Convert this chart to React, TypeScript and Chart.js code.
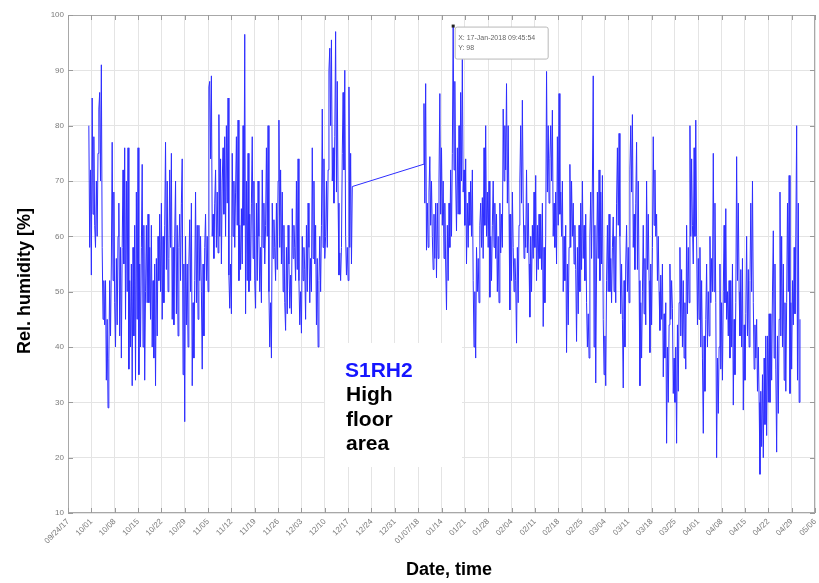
import React, { useEffect, useRef } from "react";
import { Chart, registerables } from "chart.js";

Chart.register(...registerables);

// Week tick labels, one every 7 days starting 09/24/17
const tickLabels = [
  "09/24/17", "10/01", "10/08", "10/15", "10/22", "10/29", "11/05", "11/12", "11/19",
  "11/26", "12/03", "12/10", "12/17", "12/24", "12/31", "01/07/18", "01/14", "01/21",
  "01/28", "02/04", "02/11", "02/18", "02/25", "03/04", "03/11", "03/18", "03/25",
  "04/01", "04/08", "04/15", "04/22", "04/29", "05/06",
];

// Sampling: days after 09/24/17, one reading every 6 hours
const sampleStep = 0.25;
const seg1StartDay = 6.25;
const seg2StartDay = 106.5;

// Relative humidity [%] — autumn segment (30 Sep – 18 Dec 2017)
const seg1Humidity = [
  80, 58, 72, 53,
  85, 64, 78, 62, 58, 70, 60, 75, 83, 86, 70, 91, 58, 45, 52, 44, 52, 34, 45, 29, 38, 52, 42, 55, 77, 52, 68, 48,
  40, 56, 44, 60, 66, 42, 58, 38, 58, 72, 55, 76, 45, 70, 50, 76, 36, 52, 40, 55, 33, 58, 42, 62, 34, 68, 45, 76,
  35, 55, 40, 58, 73, 40, 62, 34, 50, 62, 48, 64, 48, 58, 45, 62, 40, 52, 38, 55, 33, 56, 42, 60, 52, 64, 50, 66,
  45, 60, 48, 62, 77, 54, 70, 50, 56, 72, 58, 75, 45, 58, 44, 60, 70, 46, 62, 42, 58, 64, 52, 66, 74, 35, 55, 26.5,
  60, 44, 55, 40, 55, 63, 50, 66, 33, 48, 38, 52, 68, 48, 62, 45, 62, 52, 60, 50, 36, 55, 42, 58, 64, 52, 60, 50,
  87, 88, 74, 89, 60, 64, 56, 66, 72, 58, 68, 57, 82, 60, 74, 55, 70, 76, 64, 78, 60, 80, 66, 85, 53, 47, 55, 46,
  75, 60, 70, 58, 68, 78, 62, 81, 52, 62, 54, 65, 55, 80, 62, 96.5, 46, 70, 52, 75, 50, 64, 52, 66, 78, 56, 70, 52,
  47, 66, 52, 70, 60, 50, 58, 48, 72, 58, 66, 55, 62, 76, 60, 80, 50, 40, 48, 38, 66, 56, 63, 58, 52, 66, 54, 70,
  81, 58, 72, 55, 68, 50, 62, 48, 43, 58, 46, 62, 55, 47, 53, 46, 65, 56, 62, 58, 52, 70, 54, 74, 52, 44, 50, 42.5,
  60, 52, 58, 54, 45, 62, 50, 66, 58, 48, 56, 50, 76, 56, 70, 55, 62, 44, 56, 40, 52, 60, 50, 62, 83, 58, 74, 56,
  60, 70, 58, 72, 90, 94, 80, 95.5, 70, 76, 66, 78, 97, 68, 88, 66, 53, 57, 52, 58, 75, 86, 72, 90, 60, 53, 58, 52,
  87, 58, 75, 55, 69,
];

// Relative humidity [%] — winter/spring segment (8 Jan – 30 Apr 2018)
const seg2Humidity = [
  73, 84, 66, 87.6, 57.5, 66, 58, 68, 74.4, 62, 70, 60, 54, 64, 56, 66, 52.5, 66, 56, 70, 85.8, 64, 76, 62, 70, 56, 66, 55,
  46.7, 62, 52, 66, 58, 72, 60, 75, 98, 72, 88, 70, 61, 76, 64, 80, 64, 86, 70, 92, 68, 72, 62, 74, 55, 66, 58, 68,
  62, 70, 60, 72, 52, 40, 50, 38, 58, 50, 56, 48, 62, 66, 58, 67, 56, 76, 62, 80, 60, 68, 58, 70, 49, 60, 52, 62,
  70, 58, 66, 56, 64, 50, 60, 48, 66, 57, 64, 58, 83, 70, 80, 72, 87.6, 66, 80, 64, 46.7, 64, 52, 68, 58, 50, 56, 52,
  40.7, 58, 48, 62, 70, 80, 66, 84.6, 66, 56, 62, 58, 72, 57, 66, 55, 45.4, 60, 50, 62, 56, 68, 58, 71, 52, 62, 54, 64,
  56, 64, 54, 66, 43.7, 58, 48, 60, 89.8, 68, 80, 66, 74, 80, 70, 82.8, 60, 66, 58, 68, 55, 78, 62, 85.8, 64, 68, 60, 70,
  50, 60, 52, 62, 39, 55, 44, 58, 73, 58, 70, 60, 66, 55, 62, 54, 41, 58, 46, 62, 50, 66, 54, 70, 56, 62, 52, 64,
  48, 40, 46, 38, 60, 68, 56, 70, 89, 40, 62, 33.5, 55, 68, 56, 72, 52, 68, 55, 71, 45, 35, 42, 33, 52, 62, 50, 64,
  50, 56, 48, 58, 63.5, 50, 60, 48, 66, 76, 62, 78.6, 60, 46, 55, 45, 32.6, 52, 40, 55, 62, 50, 58, 48, 72, 80, 68, 82,
  58, 64, 54, 66, 77, 54, 70, 52, 33, 48, 38, 50, 62, 46, 56, 44, 70, 54, 64, 52, 39, 55, 44, 58, 78, 62, 72, 60,
  64, 52, 60, 50, 43, 53, 45, 55, 34.6, 46, 38, 48, 22.6, 40, 30, 44, 55, 45, 52, 47, 31.6, 38, 30, 40, 22.6, 44, 32, 48,
  58, 42, 54, 40, 52, 38, 48, 36, 62, 46, 58, 48, 80, 60, 74, 62, 55, 76, 60, 81, 60, 44, 56, 45, 58, 40, 52, 38,
  24.4, 42, 32, 45, 55, 40, 50, 42, 60, 48, 56, 50, 75, 50, 66, 48, 20, 38, 28, 40, 55, 36, 48, 34, 50, 62, 48, 65,
  45, 50, 42, 52, 38, 52, 40, 55, 29.5, 45, 35, 48, 74.4, 52, 66, 50, 42, 54, 40, 56, 28.6, 44, 34, 46, 60, 42, 54, 40,
  52, 66, 50, 70, 48, 36, 44, 38, 45, 32, 40, 30, 17, 32, 22, 35, 20, 38, 26, 42, 24, 42, 30, 46, 30, 46, 34, 50,
  61, 38, 55, 36, 21, 42, 28, 45, 68, 42, 60, 40, 55, 34, 48, 32, 48, 66, 50, 71, 31.6, 48, 36, 52, 44, 58, 46, 60,
  80, 34, 66, 30, 45,
];

const seriesName = "S1RH2";
const noteLines = ["High", "floor", "area"];
const tipLines = ["X: 17-Jan-2018 09:45:54", "Y: 98"];
const xTitle = "Date, time";
const yTitle = "Rel. humidity [%]";

const FONT = '"Liberation Sans", Arial, sans-serif';

export default function App() {
  const canvasRef = useRef<HTMLCanvasElement | null>(null);

  useEffect(() => {
    document.body.style.margin = "0";
    const canvas = canvasRef.current;
    if (!canvas) return;

    const points = [
      ...seg1Humidity.map((v, i) => ({ x: seg1StartDay + i * sampleStep, y: v })),
      ...seg2Humidity.map((v, i) => ({ x: seg2StartDay + i * sampleStep, y: v })),
    ];

    const decor = {
      id: "decor",
      beforeDatasetsDraw(chart: any) {
        const { ctx } = chart;
        ctx.save();
        ctx.fillStyle = "#ffffff";
        ctx.fillRect(325, 343, 137, 124);
        ctx.restore();
      },
      afterDatasetsDraw(chart: any) {
        const { ctx, chartArea: a, scales } = chart;
        ctx.save();
        // frame
        ctx.strokeStyle = "#a8a8a8";
        ctx.lineWidth = 1;
        ctx.strokeRect(Math.round(a.left) + 0.5, Math.round(a.top) + 0.5,
          Math.round(a.right - a.left) - 1, Math.round(a.bottom - a.top) - 1);
        // inward ticks
        ctx.strokeStyle = "#9a9a9a";
        ctx.beginPath();
        scales.x.ticks.forEach((t: any) => {
          const px = Math.round(scales.x.getPixelForValue(t.value)) + 0.5;
          ctx.moveTo(px, a.bottom); ctx.lineTo(px, a.bottom - 5);
          ctx.moveTo(px, a.top); ctx.lineTo(px, a.top + 5);
        });
        scales.y.ticks.forEach((t: any) => {
          const py = Math.round(scales.y.getPixelForValue(t.value)) + 0.5;
          ctx.moveTo(a.left, py); ctx.lineTo(a.left + 5, py);
          ctx.moveTo(a.right, py); ctx.lineTo(a.right - 5, py);
        });
        ctx.stroke();

        // data tip at the maximum
        const meta = chart.getDatasetMeta(0);
        let mi = 0;
        points.forEach((p, i) => { if (p.y > points[mi].y) mi = i; });
        const el = meta.data[mi];
        const px = el.x, py = el.y;
        ctx.fillStyle = "#ffffff";
        ctx.strokeStyle = "#b8b8b8";
        ctx.beginPath();
        ctx.roundRect(px + 2, py + 1, 93, 32, 2);
        ctx.fill();
        ctx.stroke();
        ctx.fillStyle = "#222";
        ctx.fillRect(px - 1.5, py - 1.5, 3, 3);
        ctx.fillStyle = "#666";
        ctx.font = `7px ${FONT}`;
        ctx.textBaseline = "middle";
        ctx.textAlign = "left";
        ctx.fillText(tipLines[0], px + 5, py + 12);
        ctx.fillText(tipLines[1], px + 5, py + 22);

        // series note
        ctx.font = `bold 21px ${FONT}`;
        ctx.textBaseline = "alphabetic";
        ctx.fillStyle = "#1515ff";
        ctx.fillText(seriesName, 345, 377);
        ctx.fillStyle = "#000";
        noteLines.forEach((s, i) => ctx.fillText(s, 346, 401 + i * 24.5));

        // axis titles
        ctx.font = `bold 18px ${FONT}`;
        ctx.textAlign = "center";
        ctx.textBaseline = "middle";
        ctx.fillText(xTitle, 449, 570);
        ctx.translate(25, 281);
        ctx.rotate(-Math.PI / 2);
        ctx.fillText(yTitle, 0, 0);
        ctx.restore();
      },
    };

    const chart = new Chart(canvas, {
      type: "line",
      data: {
        datasets: [
          {
            label: seriesName,
            data: points,
            borderColor: "rgb(45,45,255)",
            borderWidth: 1,
            pointRadius: 0,
            tension: 0,
            fill: false,
          },
        ],
      },
      options: {
        responsive: false,
        animation: false,
        events: [],
        layout: { padding: { left: 0, right: 4, top: 15, bottom: 0 } },
        plugins: { legend: { display: false }, tooltip: { enabled: false } },
        scales: {
          x: {
            type: "linear",
            min: 0,
            max: 224,
            afterFit(scale: any) {
              scale.height = 70;
              scale.paddingLeft = 0;
              scale.paddingRight = 0;
            },
            border: { display: false },
            grid: { color: "#e4e4e4", drawTicks: false, lineWidth: 1 },
            ticks: {
              stepSize: 7,
              autoSkip: false,
              maxRotation: 45,
              minRotation: 45,
              padding: 4,
              color: "#7a7a7a",
              font: { family: FONT, size: 8 },
              callback: (v: any) => tickLabels[Math.round(Number(v) / 7)] ?? "",
            },
          },
          y: {
            min: 10,
            max: 100,
            afterFit(scale: any) {
              scale.width = 68;
            },
            border: { display: false },
            grid: { color: "#e4e4e4", drawTicks: false, lineWidth: 1 },
            ticks: {
              stepSize: 10,
              padding: 4,
              color: "#7a7a7a",
              font: { family: FONT, size: 8 },
            },
          },
        },
      },
      plugins: [decor],
    });

    return () => chart.destroy();
  }, []);

  return (
    <div style={{ width: 819, height: 583, background: "#fff" }}>
      <canvas ref={canvasRef} width={819} height={583} style={{ display: "block" }} />
    </div>
  );
}
